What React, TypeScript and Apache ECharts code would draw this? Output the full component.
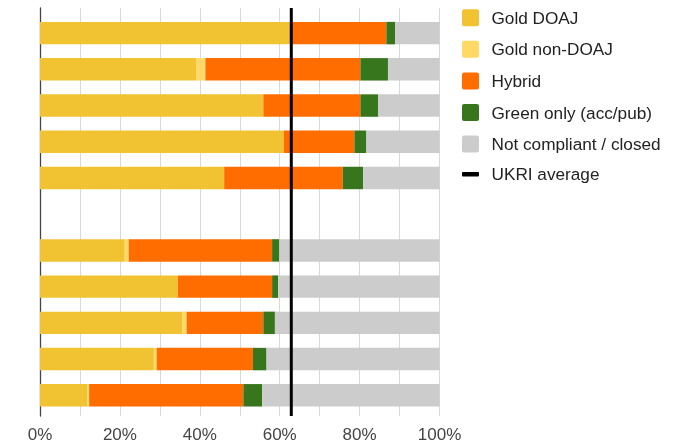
import React, { useEffect, useRef } from 'react';
import * as echarts from 'echarts';

const categories = ['1', '2', '3', '4', '5', '', '6', '7', '8', '9', '10'];
const goldDOAJ = [62.5, 39.2, 55.9, 61.0, 46.1, null, 21.2, 34.5, 35.7, 28.5, 11.9];
const goldNonDOAJ = [0, 2.2, 0, 0, 0, null, 1.0, 0, 1.0, 0.7, 0.4];
const hybrid = [24.2, 38.8, 24.3, 17.7, 29.7, null, 35.9, 23.6, 19.2, 24.1, 38.6];
const greenOnly = [2.2, 6.9, 4.4, 3.0, 5.1, null, 1.8, 1.5, 2.9, 3.4, 4.7];
const notCompliant = [11.1, 12.9, 15.4, 18.3, 19.1, null, 40.1, 40.4, 41.2, 43.3, 44.4];
const ukriAverage = 62.9;

const seriesNames = ['Gold DOAJ', 'Gold non-DOAJ', 'Hybrid', 'Green only (acc/pub)', 'Not compliant / closed'];
const seriesColors = ['#f1c232', '#ffd966', '#ff6d01', '#38761d', '#cccccc'];
const seriesData = [goldDOAJ, goldNonDOAJ, hybrid, greenOnly, notCompliant];
const lineName = 'UKRI average';

const FONT = '"Liberation Sans", Arial, sans-serif';

export default function App() {
  const ref = useRef<HTMLDivElement>(null);
  useEffect(() => {
    if (!ref.current) return;
    const chart = echarts.init(ref.current, null, { renderer: 'svg' });

    const legendTop = 17.7;
    const legendStep = 31.6;
    const legendItems: any[] = [];
    seriesNames.forEach((name, i) => {
      const cy = legendTop + i * legendStep;
      legendItems.push({
        type: 'rect',
        shape: { x: 462, y: cy - 8.5, width: 17, height: 17, r: 2 },
        style: { fill: seriesColors[i] },
      });
      legendItems.push({
        type: 'text',
        x: 491.5,
        y: cy,
        style: { text: name, fill: '#222', font: `17.2px ${FONT}`, verticalAlign: 'middle' },
      });
    });
    {
      const cy = legendTop + 5 * legendStep - 1.5;
      legendItems.push({
        type: 'rect',
        shape: { x: 462, y: cy - 2.3, width: 17, height: 4.6, r: 1 },
        style: { fill: '#000' },
      });
      legendItems.push({
        type: 'text',
        x: 491.5,
        y: cy,
        style: { text: lineName, fill: '#222', font: `17.2px ${FONT}`, verticalAlign: 'middle' },
      });
    }

    const option: any = {
      animation: false,
      textStyle: { fontFamily: FONT },
      grid: [
        { left: 40, right: 234.5, top: 15, bottom: 29.6 },
        { left: 40, right: 234.5, top: 8, bottom: 27 },
      ],
      xAxis: [
        { type: 'value', gridIndex: 0, min: 0, max: 100, show: false },
        {
          type: 'value',
          gridIndex: 1,
          min: 0,
          max: 100,
          interval: 10,
          axisLine: { show: false },
          axisTick: { show: false },
          splitLine: { show: true, lineStyle: { color: '#d9d9d9', width: 1 } },
          axisLabel: {
            color: '#444',
            fontSize: 17,
            fontFamily: FONT,
            margin: 10,
            formatter: (v: number) => (v % 20 === 0 ? v + '%' : ''),
          },
        },
      ],
      yAxis: [
        { type: 'category', gridIndex: 0, data: categories, inverse: true, show: false },
        {
          type: 'value',
          gridIndex: 1,
          min: 0,
          max: 1,
          axisLine: { show: true, lineStyle: { color: '#444', width: 1.3 } },
          axisTick: { show: false },
          axisLabel: { show: false },
          splitLine: { show: false },
        },
      ],
      series: [
        ...seriesNames.map((name, i) => ({
          name,
          type: 'bar',
          stack: 'total',
          xAxisIndex: 0,
          yAxisIndex: 0,
          barWidth: '62%',
          data: seriesData[i],
          itemStyle: { color: seriesColors[i] },
          z: 3,
        })),
        {
          name: lineName,
          type: 'line',
          xAxisIndex: 1,
          yAxisIndex: 1,
          data: [
            [ukriAverage, 0],
            [ukriAverage, 1],
          ],
          symbol: 'none',
          lineStyle: { color: '#000', width: 3 },
          z: 5,
        },
      ],
      graphic: legendItems,
    };
    chart.setOption(option);
    return () => chart.dispose();
  }, []);
  return <div ref={ref} style={{ position: 'fixed', left: 0, top: 0, width: 674, height: 443 }} />;
}
